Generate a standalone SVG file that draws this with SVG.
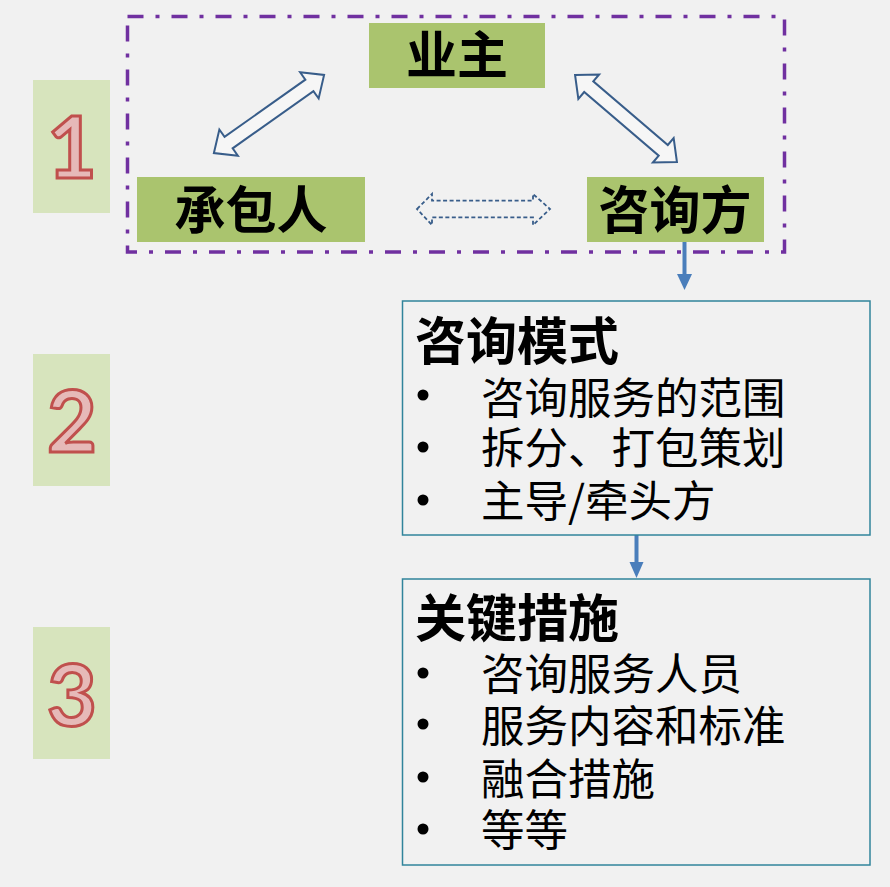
<svg xmlns="http://www.w3.org/2000/svg" width="890" height="887" viewBox="0 0 890 887">
<style>
.bg{fill:#f1f1f1}
.num{fill:#d7e4bd}
.digit{font-family:Lato,"Liberation Sans",sans-serif;font-weight:700;font-size:86px;fill:#e6b9b8;stroke:#c0504d;stroke-width:3;text-anchor:middle}
.party{fill:#aac46e}
.ptxt{font-family:"Noto Sans CJK SC",sans-serif;font-weight:700;font-size:51px;fill:#000;text-anchor:middle}
.frame{fill:none;stroke:#7030a0;stroke-width:3.5;stroke-dasharray:16 12 4 12}
.dbl{fill:#ffffff;fill-opacity:0.4;stroke:#385d8a;stroke-width:2;stroke-linejoin:miter}
.dash{fill:none;stroke:#385d8a;stroke-width:1.8;stroke-dasharray:4 2.5}
.box{fill:none;stroke:#31849b;stroke-width:1.5}
.title{font-family:"Noto Sans CJK SC",sans-serif;font-weight:700;font-size:51px;fill:#000}
.item{font-family:"Noto Sans CJK SC",sans-serif;font-size:43.5px;fill:#000}
.conn{stroke:#4a7ebb;stroke-width:4;fill:none}
.head{fill:#4a7ebb}
</style>
<rect class="bg" x="0" y="0" width="890" height="887"/>

<g id="num1"><rect class="num" x="33" y="80" width="77" height="133"/><text class="digit" x="72" y="178">1</text></g>
<g id="num2"><rect class="num" x="33" y="354" width="77" height="132"/><text class="digit" x="72" y="452">2</text></g>
<g id="num3"><rect class="num" x="33" y="627" width="77" height="132"/><text class="digit" x="72" y="726">3</text></g>

<g id="frame"><rect class="frame" x="127.5" y="16.5" width="657" height="235.5"/></g>

<g id="connectors">
  <polygon class="dbl" transform="translate(269,114) rotate(-35.3)" points="-67.5,0 -49.5,-16 -49.5,-7 49.5,-7 49.5,-16 67.5,0 49.5,16 49.5,7 -49.5,7 -49.5,16"/>
  <polygon class="dbl" transform="translate(626,118.5) rotate(40.5)" points="-67,0 -49,-16 -49,-7 49,-7 49,-16 67,0 49,16 49,7 -49,7 -49,16"/>
  <polygon class="dash" points="417,209 432,194 432,200.7 533,200.7 533,194 550,209 533,225 533,217.3 432,217.3 432,225"/>
  <line class="conn" x1="684.5" y1="242" x2="684.5" y2="276"/>
  <polygon class="head" points="677,274 692,274 684.5,290"/>
  <line class="conn" x1="636.5" y1="535" x2="636.5" y2="564"/>
  <polygon class="head" points="629.5,562 643.5,562 636.5,578"/>
</g>

<g id="owner"><rect class="party" x="369" y="23" width="176" height="65"/><text class="ptxt" x="457" y="74">业主</text></g>
<g id="contractor"><rect class="party" x="137" y="177" width="228" height="65"/><text class="ptxt" x="251" y="229">承包人</text></g>
<g id="consultant"><rect class="party" x="587" y="177" width="177" height="65"/><text class="ptxt" x="675" y="229">咨询方</text></g>

<g id="mode">
  <rect class="box" x="402.5" y="301" width="467.5" height="234"/>
  <text class="title" x="415" y="360">咨询模式</text>
  <circle cx="423" cy="395" r="5.5"/><text class="item" x="481" y="414">咨询服务的范围</text>
  <circle cx="423" cy="447" r="5.5"/><text class="item" x="481" y="464">拆分、打包策划</text>
  <circle cx="423" cy="500" r="5.5"/><text class="item" x="481" y="517">主导/牵头方</text>
</g>

<g id="measures">
  <rect class="box" x="402.5" y="579" width="467.5" height="286"/>
  <text class="title" x="415" y="637">关键措施</text>
  <circle cx="423" cy="673" r="5.5"/><text class="item" x="481" y="690">咨询服务人员</text>
  <circle cx="423" cy="724" r="5.5"/><text class="item" x="481" y="742">服务内容和标准</text>
  <circle cx="423" cy="777" r="5.5"/><text class="item" x="481" y="795">融合措施</text>
  <circle cx="423" cy="829" r="5.5"/><text class="item" x="481" y="846">等等</text>
</g>
</svg>
